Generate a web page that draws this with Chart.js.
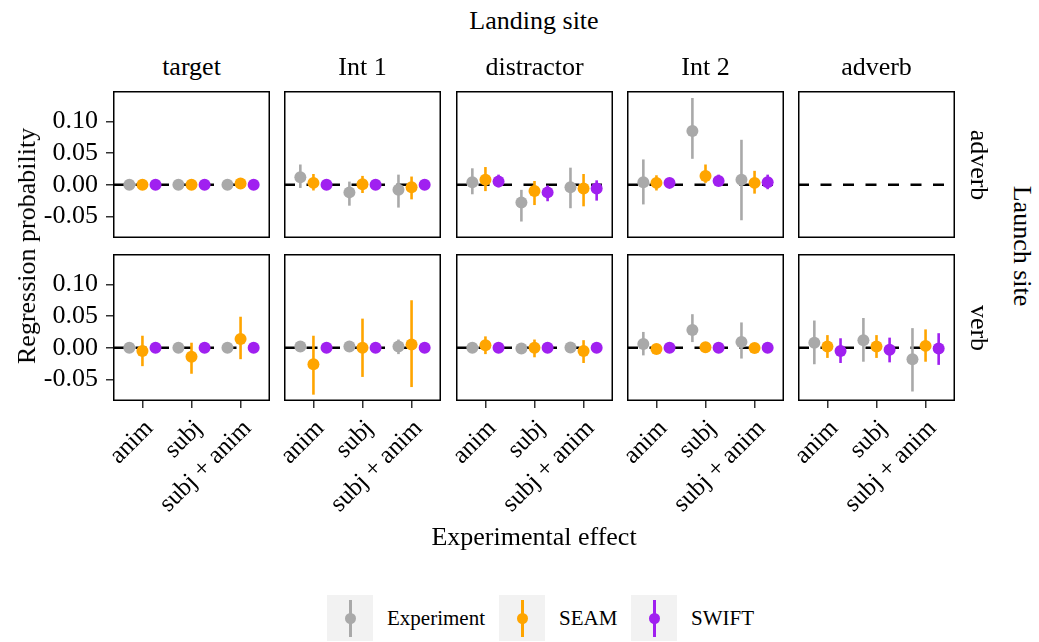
<!DOCTYPE html>
<html>
<head>
<meta charset="utf-8">
<script src="https://cdn.jsdelivr.net/npm/chart.js@4.4.0/dist/chart.umd.min.js"></script>
<style>
  body { margin: 0; background: #fff; width: 1039px; height: 642px; position: relative; overflow: hidden;
         font-family: "Liberation Serif", "DejaVu Serif", serif; color: #000; }
  canvas { position: absolute; }
  .lbl { position: absolute; font-size: 26px; line-height: 1; white-space: nowrap; z-index: 5; }
  .key { position: absolute; top: 595px; width: 46px; height: 46px; background: #f2f2f2; }
  .key .bar { position: absolute; left: 22px; top: 5px; width: 2.6px; height: 37px; }
  .key .dot { position: absolute; left: 17.5px; top: 17.5px; width: 11.5px; height: 11.5px; border-radius: 50%; }
  .ktxt { position: absolute; top: 608px; font-size: 21px; line-height: 1; }
</style>
</head>
<body>
<div class="lbl" style="left:534px; top:8px; transform:translateX(-50%);">Landing site</div>
<div class="lbl" style="left:27px; top:246px; transform:translate(-50%,-50%) rotate(-90deg);">Regression probability</div>
<div class="lbl" style="left:1022px; top:246px; transform:translate(-50%,-50%) rotate(90deg);">Launch site</div>
<div class="lbl" style="left:534px; top:524px; transform:translateX(-50%);">Experimental effect</div>
<div id="strips"></div>
<div id="legend"></div>

<script>
// Facets and categories
const landingSites = ['target', 'Int 1', 'distractor', 'Int 2', 'adverb'];
const launchSites = ['adverb', 'verb'];
const effects = ['anim', 'subj', 'subj + anim'];
const seriesNames = ['Experiment', 'SEAM', 'SWIFT'];
const yTicks = [-0.05, 0, 0.05, 0.10];

// [mean, lower, upper] for each effect, one row per landing site (null = no data)
const experimentAdverb = [
    [[0, -0.002, 0.002], [0, -0.002, 0.002], [0, -0.002, 0.002]],
    [[0.012, -0.005, 0.032], [-0.012, -0.033, 0.005], [-0.008, -0.036, 0.016]],
    [[0.004, -0.015, 0.026], [-0.028, -0.058, -0.008], [-0.004, -0.037, 0.027]],
    [[0.004, -0.031, 0.040], [0.085, 0.041, 0.137], [0.008, -0.056, 0.071]],
    null
];
const seamAdverb = [
    [[0, -0.002, 0.002], [0, -0.002, 0.002], [0.002, -0.001, 0.005]],
    [[0.003, -0.009, 0.017], [0.001, -0.013, 0.014], [-0.004, -0.023, 0.013]],
    [[0.008, -0.010, 0.028], [-0.010, -0.032, 0.006], [-0.006, -0.034, 0.017]],
    [[0.003, -0.009, 0.015], [0.014, 0.003, 0.032], [0.003, -0.014, 0.022]],
    null
];
const swiftAdverb = [
    [[0, -0.002, 0.002], [0, -0.002, 0.002], [0, -0.002, 0.002]],
    [[0, -0.002, 0.002], [0, -0.002, 0.002], [0, -0.002, 0.002]],
    [[0.005, -0.004, 0.016], [-0.012, -0.026, -0.001], [-0.006, -0.025, 0.007]],
    [[0.003, -0.002, 0.008], [0.006, -0.001, 0.016], [0.004, -0.007, 0.016]],
    null
];
const experimentVerb = [
    [[0, -0.002, 0.002], [0, -0.002, 0.002], [0, -0.002, 0.002]],
    [[0.002, -0.002, 0.006], [0.002, -0.002, 0.006], [0.002, -0.010, 0.013]],
    [[0, -0.002, 0.002], [-0.001, -0.003, 0.001], [0.0005, -0.002, 0.003]],
    [[0.006, -0.012, 0.025], [0.028, 0.009, 0.053], [0.009, -0.017, 0.040]],
    [[0.008, -0.026, 0.043], [0.012, -0.022, 0.047], [-0.018, -0.069, 0.031]]
];
const seamVerb = [
    [[-0.005, -0.029, 0.019], [-0.014, -0.041, 0.008], [0.014, -0.018, 0.049]],
    [[-0.026, -0.074, 0.019], [0, -0.046, 0.046], [0.005, -0.062, 0.075]],
    [[0.004, -0.010, 0.018], [0, -0.015, 0.013], [-0.005, -0.024, 0.012]],
    [[-0.002, -0.004, 0.000], [0.001, -0.001, 0.003], [-0.0005, -0.003, 0.002]],
    [[0.002, -0.016, 0.020], [0.002, -0.016, 0.020], [0.003, -0.022, 0.029]]
];
const swiftVerb = [
    [[0, -0.002, 0.002], [0, -0.002, 0.002], [0, -0.002, 0.002]],
    [[0, -0.002, 0.002], [0, -0.002, 0.002], [0, -0.002, 0.002]],
    [[0, -0.002, 0.002], [0, -0.002, 0.002], [0, -0.002, 0.002]],
    [[0, -0.002, 0.002], [0, -0.002, 0.002], [0, -0.002, 0.002]],
    [[-0.005, -0.024, 0.015], [-0.003, -0.023, 0.016], [-0.001, -0.027, 0.023]]
];

const seriesByLaunch = [
    [experimentAdverb, seamAdverb, swiftAdverb],
    [experimentVerb, seamVerb, swiftVerb]
];
const colors = ['#a9a9a9', '#ffa500', '#a020f0'];
const dodge = [-0.267, 0, 0.267];
const FONT = '"Liberation Serif", "DejaVu Serif", serif';

// Layout of the facet grid (pixels)
const panelLeft = [113, 284, 456, 627, 798];
const panelTop = [91, 254];
const panelW = 157, panelH = 147;
const xAxisH = 140;
const sideMargin = 30;

// zero line, error bars and panel border
const panelPlugin = {
    id: 'panelDecor',
    beforeDatasetsDraw(chart) {
        const ctx = chart.ctx, a = chart.chartArea, y = chart.scales.y;
        ctx.save();
        ctx.beginPath();
        ctx.rect(a.left, a.top, a.width, a.height);
        ctx.clip();
        const y0 = y.getPixelForValue(0);
        ctx.setLineDash([11, 11.5]);
        ctx.lineWidth = 2.6;
        ctx.strokeStyle = '#000';
        ctx.beginPath();
        ctx.moveTo(a.left, y0);
        ctx.lineTo(a.right, y0);
        ctx.stroke();
        ctx.setLineDash([]);
        ctx.lineWidth = 2.6;
        chart.data.datasets.forEach((ds, i) => {
            const meta = chart.getDatasetMeta(i);
            ctx.strokeStyle = ds.backgroundColor;
            meta.data.forEach((pt, j) => {
                const r = ds.ranges[j];
                ctx.beginPath();
                ctx.moveTo(pt.x, y.getPixelForValue(r[0]));
                ctx.lineTo(pt.x, y.getPixelForValue(r[1]));
                ctx.stroke();
            });
        });
        ctx.restore();
    },
    afterDraw(chart) {
        const ctx = chart.ctx, a = chart.chartArea;
        ctx.save();
        ctx.lineWidth = 1.5;
        ctx.strokeStyle = '#000';
        ctx.strokeRect(a.left + 0.75, a.top + 0.75, a.width - 1.5, a.height - 1.5);
        ctx.restore();
    }
};

function makePanel(row, col) {
    const left = col === 0 ? 0 : panelLeft[col] - sideMargin;
    const width = panelLeft[col] + panelW - left;
    const height = panelH + (row === 1 ? xAxisH : 0);
    const canvas = document.createElement('canvas');
    canvas.width = width;
    canvas.height = height;
    canvas.style.left = left + 'px';
    canvas.style.top = panelTop[row] + 'px';
    canvas.style.width = width + 'px';
    canvas.style.height = height + 'px';
    document.body.appendChild(canvas);

    const rows = seriesByLaunch[row];
    const datasets = [];
    rows.forEach((series, s) => {
        const cell = series[col];
        if (!cell) return;
        datasets.push({
            label: seriesNames[s],
            data: cell.map((v, i) => ({ x: i + 1 + dodge[s], y: v[0] })),
            ranges: cell.map(v => [v[1], v[2]]),
            backgroundColor: colors[s],
            borderWidth: 0,
            pointRadius: 6,
            pointHoverRadius: 6
        });
    });

    const showX = row === 1, showY = col === 0;
    new Chart(canvas, {
        type: 'scatter',
        data: { datasets: datasets },
        plugins: [panelPlugin],
        options: {
            responsive: false,
            animation: false,
            events: [],
            layout: { autoPadding: false, padding: { left: col === 0 ? 0 : sideMargin, right: 0, top: 0, bottom: 0 } },
            plugins: { legend: { display: false }, tooltip: { enabled: false } },
            scales: {
                x: {
                    type: 'linear',
                    min: 0.4,
                    max: 3.6,
                    display: showX,
                    afterBuildTicks: s => { s.ticks = effects.map((e, i) => ({ value: i + 1 })); },
                    afterFit: s => { s.height = showX ? xAxisH : 0; s.paddingLeft = 0; s.paddingRight = 0; },
                    grid: { drawOnChartArea: false, tickLength: 7, lineWidth: 1.5, color: '#333' },
                    border: { display: false },
                    ticks: {
                        autoSkip: false, minRotation: 45, maxRotation: 45, padding: 6, labelOffset: 7,
                        color: '#000', font: { family: FONT, size: 25 },
                        callback: v => effects[Math.round(v) - 1]
                    }
                },
                y: {
                    type: 'linear',
                    min: -0.084,
                    max: 0.148,
                    display: showY,
                    afterBuildTicks: s => { s.ticks = yTicks.map(v => ({ value: v })); },
                    afterFit: s => { s.width = showY ? panelLeft[0] : 0; s.paddingTop = 0; s.paddingBottom = 0; },
                    grid: { drawOnChartArea: false, tickLength: 7, lineWidth: 1.5, color: '#333' },
                    border: { display: false },
                    ticks: {
                        padding: 8, color: '#000', font: { family: FONT, size: 26 },
                        callback: v => v.toFixed(2)
                    }
                }
            }
        }
    });
}

launchSites.forEach((site, row) => {
    landingSites.forEach((ls, col) => makePanel(row, col));
});

// strip labels
const strips = document.getElementById('strips');
landingSites.forEach((name, col) => {
    const d = document.createElement('div');
    d.className = 'lbl';
    d.textContent = name;
    d.style.left = (panelLeft[col] + panelW / 2) + 'px';
    d.style.top = '54px';
    d.style.transform = 'translateX(-50%)';
    strips.appendChild(d);
});
launchSites.forEach((name, row) => {
    const d = document.createElement('div');
    d.className = 'lbl';
    d.textContent = name;
    d.style.left = '979px';
    d.style.top = (panelTop[row] + panelH / 2) + 'px';
    d.style.transform = 'translate(-50%,-50%) rotate(90deg)';
    strips.appendChild(d);
});

// legend
const legend = document.getElementById('legend');
const keyLeft = [327, 499, 631];
seriesNames.forEach((name, s) => {
    const k = document.createElement('div');
    k.className = 'key';
    k.style.left = keyLeft[s] + 'px';
    k.innerHTML = '<div class="bar" style="background:' + colors[s] + '"></div>' +
                  '<div class="dot" style="background:' + colors[s] + '"></div>';
    legend.appendChild(k);
    const t = document.createElement('div');
    t.className = 'ktxt';
    t.textContent = name;
    t.style.left = (keyLeft[s] + 60) + 'px';
    legend.appendChild(t);
});
</script>
</body>
</html>
